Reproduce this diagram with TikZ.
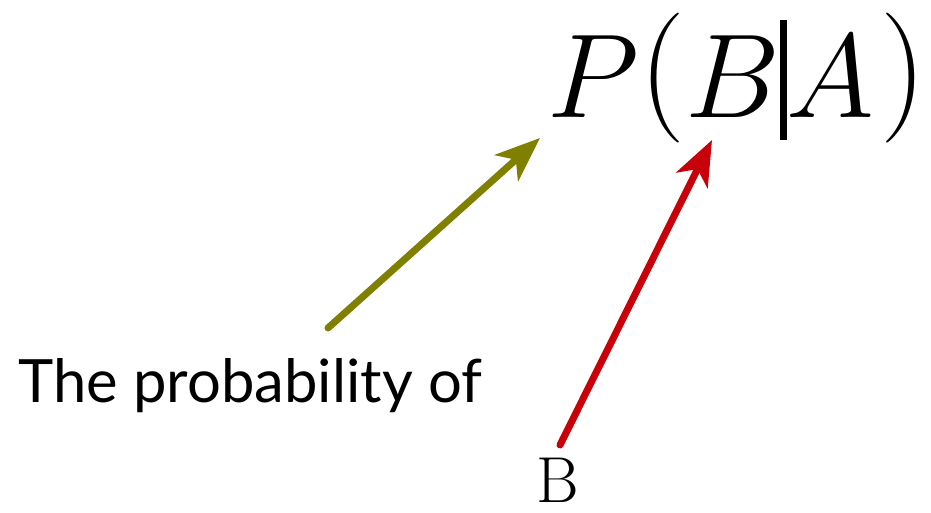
\RequirePackage{fix-cm}
\documentclass[tikz,border=0pt]{standalone}
\usepackage{amsmath}
\usepackage{fontspec}
\newfontfamily\labelfont{Lato}
\usetikzlibrary{arrows.meta}
\definecolor{probolive}{HTML}{808000}
\definecolor{probred}{HTML}{C8000A}
\tikzset{
  pointer/.style={-{Stealth[length=9mm, width=7mm, inset=2.5mm]}, line width=4pt, line cap=round},
  wordlabel/.style={inner sep=0pt, font=\labelfont\fontsize{34}{36}\selectfont},
}
% tall round brackets and the bar of the formula
\newcommand{\tallparen}[1]{\raisebox{4pt}{\fontsize{74}{74}\selectfont #1}}
\newcommand{\givenbar}{\rule[-12.5pt]{3.5pt}{68pt}}

\begin{document}
\begin{tikzpicture}
  \useasboundingbox (0,0) rectangle (18.62,10.26);

  % the formula (top right)
  \node[inner sep=0pt, anchor=base west] (formula) at (10.95, 7.90)
    {\fontsize{68}{70}\selectfont
     $P\mathopen{\tallparen{(}}B\givenbar A\mkern1mu\mathclose{\tallparen{)}}$};

  % explanatory words
  \node[wordlabel, anchor=base west] (prob) at (0.36, 2.20) {The probability of};
  \node[inner sep=0pt, anchor=base, font=\fontsize{37}{39}\selectfont] (eventB) at (11.16, 0.20) {B};

  % arrow ends
  \coordinate (probtail) at (6.56, 3.70);
  \coordinate (probtip) at (10.80, 7.50);
  \coordinate (btail) at (11.20, 1.36);
  \coordinate (btip) at (14.24, 7.46);

  % pointers
  \draw[pointer, probolive] (probtail) -- (probtip);
  \draw[pointer, probred] (btail) -- (btip);
\end{tikzpicture}
\end{document}
